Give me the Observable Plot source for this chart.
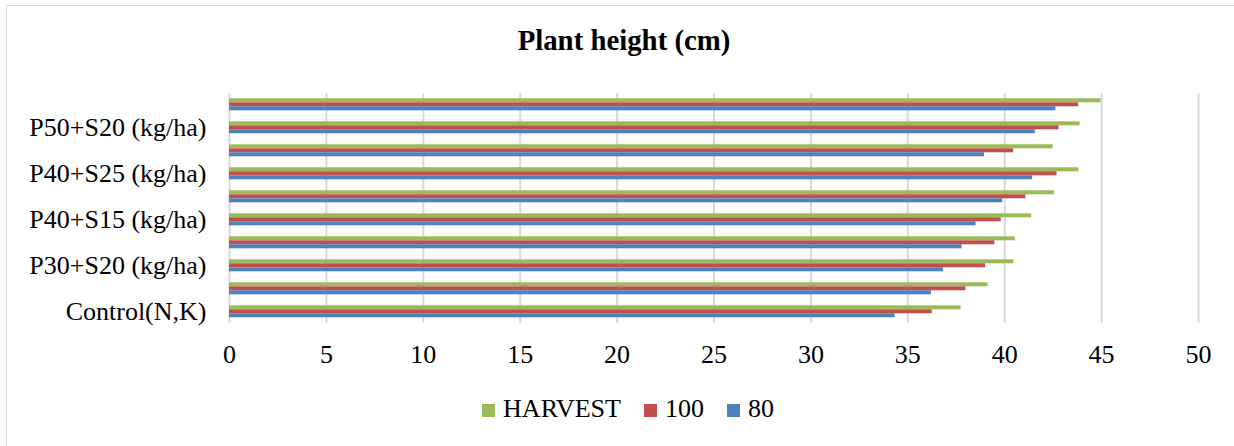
<!DOCTYPE html>
<html>
<head>
<meta charset="utf-8">
<script src="https://cdn.jsdelivr.net/npm/d3@7"></script>
<script src="https://cdn.jsdelivr.net/npm/@observablehq/plot@0.6"></script>
<style>
  html, body { margin: 0; padding: 0; background: #fff; }
  body { width: 1234px; height: 446px; overflow: hidden; position: relative; font-family: "Liberation Serif", "Times New Roman", serif; }
  #frame { position: absolute; left: 6px; top: 5px; width: 1400px; height: 600px; border-top: 1px solid #d9d9d9; border-left: 1px solid #d9d9d9; }
  #title { position: absolute; top: 26px; left: 0; width: 1248px; text-align: center; font-weight: bold; font-size: 28.8px; line-height: 29px; color: #000; }
  #chart { position: absolute; left: 0; top: 0; }
  #legend { position: absolute; top: 396px; left: 0; width: 1256px; text-align: center; font-size: 26px; line-height: 26px; color: #000; white-space: nowrap; }
  .item { display: inline-block; }
  .sw { display: inline-block; width: 13px; height: 13px; margin-right: 8px; vertical-align: baseline; }
</style>
</head>
<body>
<div id="frame"></div>
<div id="title">Plant height (cm)</div>
<div id="chart"></div>
<div id="legend"></div>
<script>
// Categories, bottom to top
const categories = ["Control(N,K)", "P30+S15 (kg/ha)", "P30+S20 (kg/ha)", "P30+S25 (kg/ha)", "P40+S15 (kg/ha)",
                    "P40+S20 (kg/ha)", "P40+S25 (kg/ha)", "P50+S15 (kg/ha)", "P50+S20 (kg/ha)", "P50+S25 (kg/ha)"];
const shownLabels = ["Control(N,K)", "P30+S20 (kg/ha)", "P40+S15 (kg/ha)", "P40+S25 (kg/ha)", "P50+S20 (kg/ha)"];
const series = ["HARVEST", "100", "80"];
const harvest = [37.75, 39.15, 40.47, 40.55, 41.39, 42.56, 43.83, 42.50, 43.89, 44.97];
const d100    = [36.26, 38.00, 39.01, 39.49, 39.82, 41.09, 42.70, 40.46, 42.80, 43.81];
const d80     = [34.34, 36.22, 36.84, 37.80, 38.52, 39.90, 41.44, 38.96, 41.58, 42.64];
const colors = ["#9BBB59", "#C0504D", "#4F81BD"];
const xTicks = [0, 5, 10, 15, 20, 25, 30, 35, 40, 45, 50];

const seriesValues = [harvest, d100, d80];
const rows = [];
categories.forEach((c, i) => {
  series.forEach((s, j) => rows.push({category: c, series: s, value: seriesValues[j][i]}));
});

const chart = Plot.plot({
  width: 1234,
  height: 380,
  marginLeft: 229,
  marginRight: 36,
  marginTop: 91.7,
  marginBottom: 55.7,
  style: {fontFamily: "'Liberation Serif', 'Times New Roman', serif", fontSize: "26px", background: "none", color: "#000", overflow: "visible"},
  x: {domain: [0, 50], ticks: xTicks, tickSize: 0, tickPadding: 21.5, label: null},
  fy: {domain: categories.slice().reverse(), padding: 0, axis: "left", tickSize: 0, tickPadding: 23, label: null,
       tickFormat: d => shownLabels.includes(d) ? d : ""},
  y: {domain: series, paddingInner: 0, paddingOuter: 1.11, axis: null},
  color: {domain: series, range: colors},
  marks: [
    Plot.gridX(xTicks, {stroke: "#d9d9d9", strokeOpacity: 1, strokeWidth: 2}),
    Plot.barX(rows, {x: "value", y: "series", fy: "category", fill: "series"})
  ]
});
document.getElementById("chart").appendChild(chart);

const legend = document.getElementById("legend");
series.forEach((s, j) => {
  const item = document.createElement("span");
  item.className = "item";
  item.style.marginRight = j < series.length - 1 ? "23px" : "0";
  const sw = document.createElement("span");
  sw.className = "sw";
  sw.style.background = colors[j];
  item.appendChild(sw);
  item.appendChild(document.createTextNode(s));
  legend.appendChild(item);
});
</script>
</body>
</html>
